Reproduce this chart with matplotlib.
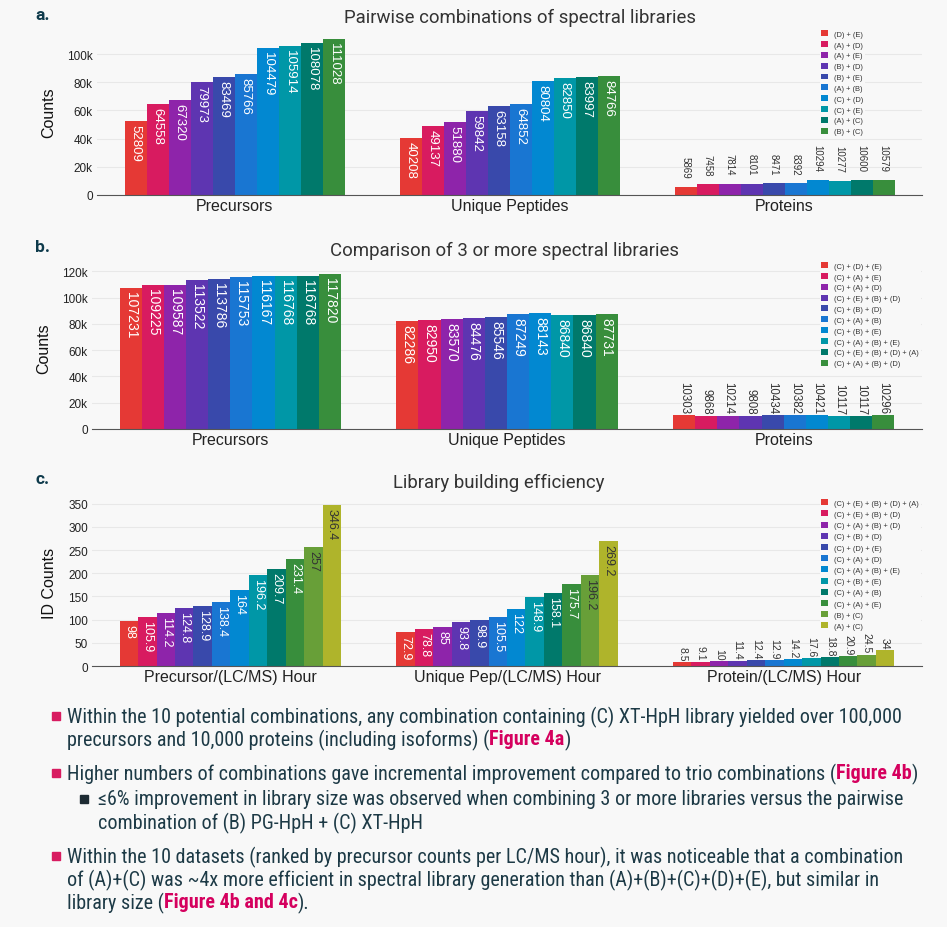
import numpy as np
import matplotlib
matplotlib.use('Agg')
import matplotlib.pyplot as plt
from matplotlib.ticker import FuncFormatter
from matplotlib.patches import Rectangle

# ---- data ----
groups_a = ['Precursors', 'Unique Peptides', 'Proteins']
combos_a = ['(D) + (E)', '(A) + (D)', '(A) + (E)', '(B) + (D)', '(B) + (E)',
            '(A) + (B)', '(C) + (D)', '(C) + (E)', '(A) + (C)', '(B) + (C)']
prec_a = [52809, 64558, 67320, 79973, 83469, 85766, 104479, 105914, 108078, 111028]
pep_a = [40208, 49137, 51880, 59842, 63158, 64852, 80804, 82850, 83997, 84766]
prot_a = [5869, 7458, 7814, 8101, 8471, 8392, 10294, 10277, 10600, 10579]

groups_b = ['Precursors', 'Unique Peptides', 'Proteins']
combos_b = ['(C) + (D) + (E)', '(C) + (A) + (E)', '(C) + (A) + (D)', '(C) + (E) + (B) + (D)',
            '(C) + (B) + (D)', '(C) + (A) + (B)', '(C) + (B) + (E)', '(C) + (A) + (B) + (E)',
            '(C) + (E) + (B) + (D) + (A)', '(C) + (A) + (B) + (D)']
prec_b = [107231, 109225, 109587, 113522, 113786, 115753, 116167, 116768, 116768, 117820]
pep_b = [82286, 82950, 83570, 84476, 85546, 87249, 88143, 86840, 86840, 87731]
prot_b = [10303, 9868, 10214, 9808, 10434, 10382, 10421, 10117, 10117, 10296]

groups_c = ['Precursor/(LC/MS) Hour', 'Unique Pep/(LC/MS) Hour', 'Protein/(LC/MS) Hour']
combos_c = ['(C) + (E) + (B) + (D) + (A)', '(C) + (E) + (B) + (D)', '(C) + (A) + (B) + (D)',
            '(C) + (B) + (D)', '(C) + (D) + (E)', '(C) + (A) + (D)', '(C) + (A) + (B) + (E)',
            '(C) + (B) + (E)', '(C) + (A) + (B)', '(C) + (A) + (E)', '(B) + (C)', '(A) + (C)']
prec_c = [98, 105.9, 114.2, 124.8, 128.9, 138.4, 164, 196.2, 209.7, 231.4, 257, 346.4]
pep_c = [72.9, 78.8, 85, 93.8, 98.9, 105.5, 122, 148.9, 158.1, 175.7, 196.2, 269.2]
prot_c = [8.5, 9.1, 10, 11.4, 12.4, 12.9, 14.2, 17.6, 18.8, 20.9, 24.5, 34]

colors = ['#e53935', '#d81b60', '#8e24aa', '#5e35b1', '#3949ab', '#1976d2',
          '#0288d1', '#0097a7', '#00796b', '#388e3c', '#689f38', '#afb42b']
light_bars = ['#689f38', '#afb42b']  # these get dark labels

bullets = [
    (0, [[('Within the 10 potential combinations, any combination containing (C) XT-HpH library yielded over 100,000', False)],
         [('precursors and 10,000 proteins (including isoforms) (', False), ('Figure 4a', True), (')', False)]]),
    (0, [[('Higher numbers of combinations gave incremental improvement compared to trio combinations (', False),
          ('Figure 4b', True), (')', False)]]),
    (1, [[('\u22646% improvement in library size was observed when combining 3 or more libraries versus the pairwise', False)],
         [('combination of (B) PG-HpH + (C) XT-HpH', False)]]),
    (0, [[('Within the 10 datasets (ranked by precursor counts per LC/MS hour), it was noticeable that a combination', False)],
         [('of (A)+(C) was ~4x more efficient in spectral library generation than (A)+(B)+(C)+(D)+(E), but similar in', False)],
         [('library size (', False), ('Figure 4b and 4c', True), (').', False)]]),
]

BG = '#f8f8f8'
DARK = '#333333'
W, H = 947, 928
CHART_FONT = ['Liberation Sans', 'DejaVu Sans']

plt.rcParams['font.family'] = CHART_FONT
fig = plt.figure(figsize=(W / 100, H / 100), dpi=100, facecolor=BG)


def px(x0, y0, w, h):
    # axes rect from pixel box (top-left origin)
    return [x0 / W, 1 - (y0 + h) / H, w / W, h / H]


def draw_panel(rect, groups, combos, series, ymax, yticks, fmt, ylabel, leg_xy, leg_sp,
               in_size, out_size, out_gap):
    ax = fig.add_axes(rect, facecolor=BG)
    vals = np.array(series)
    n = len(combos)
    width = 0.8 / n
    x = np.arange(len(groups))
    for i in range(n):
        xs = x - 0.4 + width * (i + 0.5)
        ax.bar(xs, vals[:, i], width, color=colors[i], label=combos[i], zorder=2)
        for xi, v in zip(xs, vals[:, i]):
            if v < 0.15 * ymax:
                ax.annotate(f'{v:g}', (xi, v), xytext=(0, out_gap), textcoords='offset pixels',
                            rotation=270, ha='center', va='bottom', fontsize=out_size,
                            color=DARK, zorder=3)
            else:
                c = DARK if colors[i] in light_bars else 'white'
                ax.annotate(f'{v:g}', (xi, v), xytext=(0, -3), textcoords='offset pixels',
                            rotation=270, ha='center', va='top', fontsize=in_size,
                            color=c, zorder=3)
    ax.set_xlim(-0.5, len(groups) - 0.5)
    ax.set_ylim(0, ymax)
    ax.set_yticks(yticks)
    ax.yaxis.set_major_formatter(FuncFormatter(fmt))
    ax.set_xticks(x)
    ax.set_xticklabels(groups, fontsize=11.5, color='#222222')
    ax.tick_params(axis='x', length=0, pad=2)
    ax.tick_params(axis='y', length=0, labelsize=8.5, labelcolor='#222222', pad=3)
    ax.grid(axis='y', color='#e8e8e8', lw=0.8, zorder=0)
    for s in ['top', 'right', 'left']:
        ax.spines[s].set_visible(False)
    ax.spines['bottom'].set_color('#555555')
    ax.set_ylabel(ylabel, fontsize=11.5, color='#111111', labelpad=8)
    leg = ax.legend(loc='upper left', bbox_to_anchor=(leg_xy[0] / W, 1 - leg_xy[1] / H),
                    bbox_transform=fig.transFigure, fontsize=5.4, frameon=True,
                    facecolor=BG, edgecolor='none', framealpha=1, borderpad=0.2,
                    labelspacing=leg_sp, handlelength=0.85, handleheight=0.85,
                    handletextpad=0.9)
    leg.set_zorder(5)
    for t in leg.get_texts():
        t.set_color('#333333')
    return ax


kfmt = lambda v, p: '0' if v == 0 else f'{v / 1000:g}k'
nfmt = lambda v, p: f'{v:g}'

draw_panel(px(97, 30, 825, 166), groups_a, combos_a, [prec_a, pep_a, prot_a], 117800,
           np.arange(0, 100001, 20000), kfmt, 'Counts', (816, 26), 0.43, 9.5, 7, 9)
draw_panel(px(92, 267, 830, 163), groups_b, combos_b, [prec_b, pep_b, prot_b], 124000,
           np.arange(0, 120001, 20000), kfmt, 'Counts', (816, 258), 0.43, 10, 8.3, 2)
draw_panel(px(92, 500, 830, 167), groups_c, combos_c, [prec_c, pep_c, prot_c], 360,
           np.arange(0, 351, 50), nfmt, 'ID Counts', (816, 495), 0.48, 9, 7.5, 2)

# titles and panel letters
for letter, title, tx, ty in [('a.', 'Pairwise combinations of spectral libraries', 520, 18),
                              ('b.', 'Comparison of 3 or more spectral libraries', 504, 251),
                              ('c.', 'Library building efficiency', 499, 483)]:
    fig.text(tx / W, 1 - ty / H, title, ha='center', va='center', fontsize=13.4, color=DARK,
             family=['Roboto', 'DejaVu Sans'])
    fig.text(35 / W, 1 - (ty - 3) / H, letter, ha='left', va='center', fontsize=12.5,
             fontweight='bold', color='#0f3b4c', family=['Roboto', 'DejaVu Sans'])

# bullet text
TXT = '#1d3a46'
MAG = '#d5005e'
renderer = fig.canvas.get_renderer()
line_ys = [[717, 740], [774], [800, 823], [857, 880, 903]]
for (level, lines), ys in zip(bullets, line_ys):
    bx = 52 if level == 0 else 80
    tx0 = 67 if level == 0 else 98
    bcol = '#d81b60' if level == 0 else '#1d2b33'
    fig.patches.append(Rectangle((bx / W, 1 - (ys[0] + 4) / H), 8 / W, 8 / H,
                                 transform=fig.transFigure, color=bcol, figure=fig))
    for parts, y in zip(lines, ys):
        x = tx0
        for txt, hl in parts:
            t = fig.text(x / W, 1 - y / H, txt, ha='left', va='center', fontsize=14.5,
                         color=MAG if hl else TXT, fontweight='bold' if hl else 'normal',
                         family=['Roboto Condensed', 'Roboto', 'DejaVu Sans'])
            bb = t.get_window_extent(renderer)
            x = bb.x1

fig.savefig('out.png', dpi=100, facecolor=BG)
